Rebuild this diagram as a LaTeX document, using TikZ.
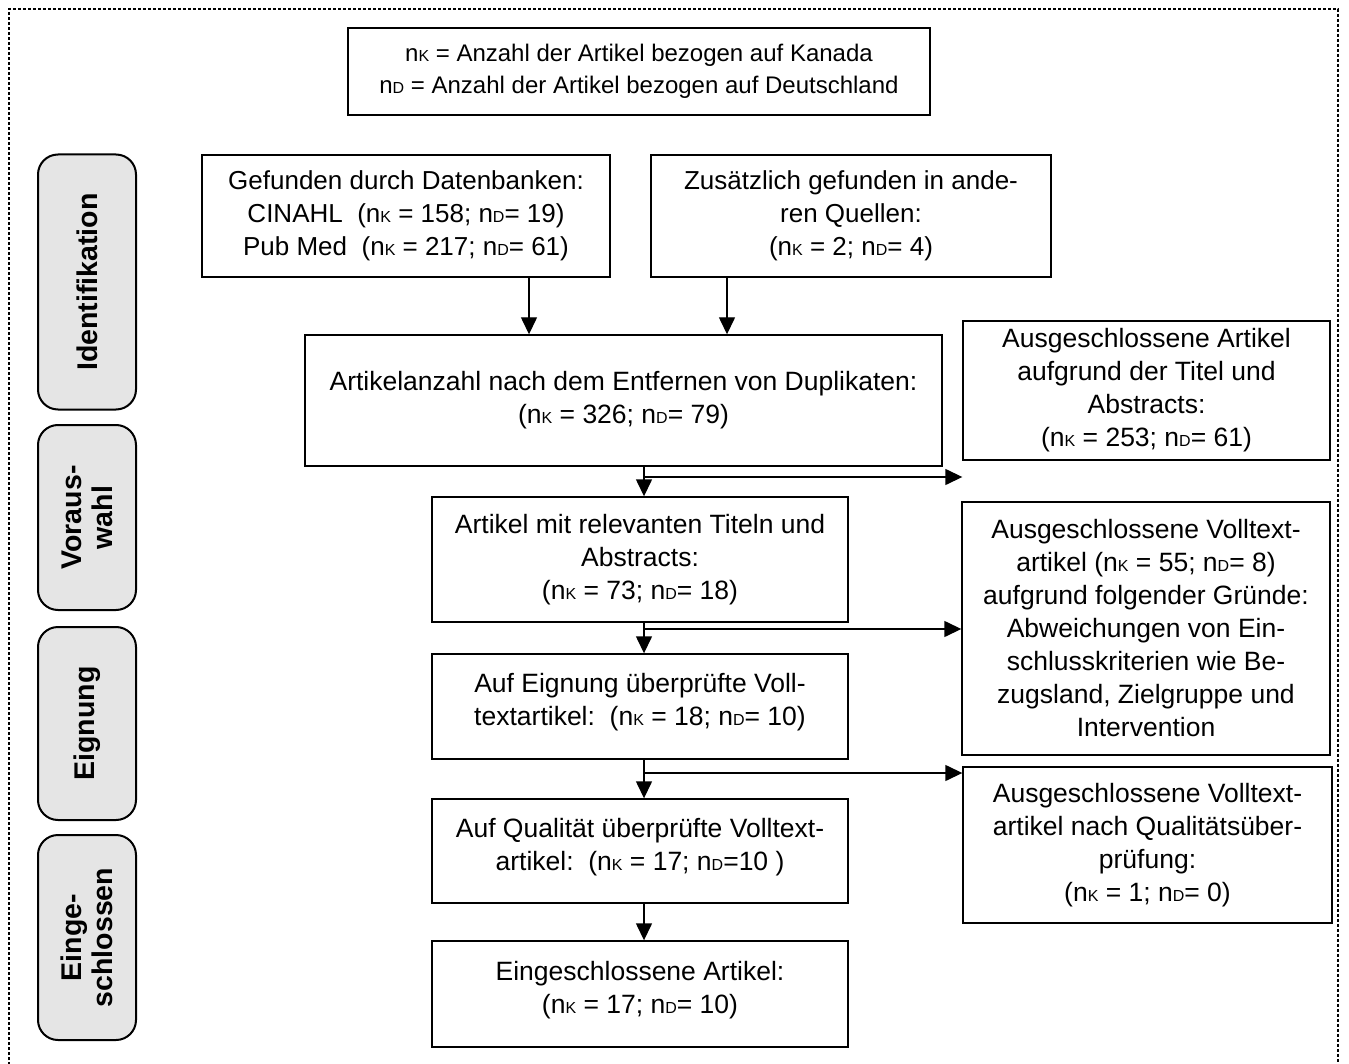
\documentclass[tikz,border=0pt]{standalone}
\usepackage{fontspec}
\setmainfont{Liberation Sans}
\usetikzlibrary{arrows.meta}
\newcommand{\nK}{n{\fontsize{16}{16}\selectfont K}}
\newcommand{\nD}{n{\fontsize{16}{16}\selectfont D}}
\newcommand{\upshiftline}{\rule[-14pt]{0pt}{14pt}}
\begin{document}
\begin{tikzpicture}[x=1pt,y=-1pt,
  box/.style={draw, line width=1.4pt, align=center, inner sep=0pt,
    font=\fontsize{26.5}{33}\selectfont},
  phase/.style={draw, line width=2pt, rounded corners=20pt, fill=black!10,
    align=center, inner sep=0pt, rotate=90,
    font=\bfseries\fontsize{28.5}{31}\selectfont},
  arr/.style={-{Triangle[width=16pt,length=17pt]}, line width=1.4pt},
  frame/.style={line width=2.6pt, dash pattern=on 2.6pt off 2.4pt}]
\useasboundingbox (0,0) rectangle (1349,1064);
\draw[frame] (9,1090) -- (9,9) -- (1338,9) -- (1338,1090);

% legend
\node[box, minimum width=582, minimum height=87, font=\fontsize{24}{32}\selectfont] (legend) at (639,71.5)
  {\nK{} = Anzahl der Artikel bezogen auf Kanada\\ \nD{} = Anzahl der Artikel bezogen auf Deutschland};

% phase labels
\node[phase, minimum width=255, minimum height=98] (p1) at (87,282) {Identifikation};
\node[phase, minimum width=185, minimum height=98] (p2) at (87,517.5) {Voraus-\\wahl};
\node[phase, minimum width=193, minimum height=98] (p3) at (87,723.5) {Eignung};
\node[phase, minimum width=205, minimum height=98] (p4) at (87,937.5) {Einge-\\schlossen};

% flow boxes
\node[box, minimum width=408, minimum height=122, font=\fontsize{26}{33}\selectfont] (A) at (406,216)
  {Gefunden durch Datenbanken:\\ CINAHL\ \ (\nK{} = 158; \nD= 19)\\ Pub Med\ \ (\nK{} = 217; \nD= 61)};
\node[box, minimum width=400, minimum height=122, font=\fontsize{26}{33}\selectfont] (B) at (851,216)
  {Zusätzlich gefunden in ande-\\ ren Quellen:\\ (\nK{} = 2; \nD= 4)};
\node[box, minimum width=637, minimum height=131] (C) at (623.5,400.5)
  {Artikelanzahl nach dem Entfernen von Duplikaten:\\ (\nK{} = 326; \nD= 79)};
\node[box, minimum width=367, minimum height=139] (D) at (1146.5,390.5)
  {Ausgeschlossene Artikel\\ aufgrund der Titel und\\ Abstracts:\\ (\nK{} = 253; \nD= 61)};
\node[box, minimum width=416, minimum height=125] (E) at (640,559.5)
  {Artikel mit relevanten Titeln und\\ Abstracts:\\ (\nK{} = 73; \nD= 18)};
\node[box, minimum width=368, minimum height=253] (F) at (1146,628.5)
  {Ausgeschlossene Volltext-\\ artikel (\nK{} = 55; \nD= 8)\\ aufgrund folgender Gründe:\\ Abweichungen von Ein-\\ schlusskriterien wie Be-\\ zugsland, Zielgruppe und\\ Intervention};
\node[box, minimum width=416, minimum height=105] (G) at (640,706.5)
  {Auf Eignung überprüfte Voll-\\ textartikel:\ \ (\nK{} = 18; \nD= 10)\upshiftline};
\node[box, minimum width=416, minimum height=104] (H) at (640,851)
  {Auf Qualität überprüfte Volltext-\\ artikel:\ \ (\nK{} = 17; \nD=10 )\upshiftline};
\node[box, minimum width=369, minimum height=156] (I) at (1147.5,845)
  {Ausgeschlossene Volltext-\\ artikel nach Qualitätsüber-\\ prüfung:\\ (\nK{} = 1; \nD= 0)};
\node[box, minimum width=416, minimum height=106] (J) at (640,994)
  {Eingeschlossene Artikel:\\ (\nK{} = 17; \nD= 10)\upshiftline};

% helper coordinates
\coordinate (xa) at (529,0);
\coordinate (xb) at (727,0);
\coordinate (sp) at (644,0);
\coordinate (b1) at (644,477);
\coordinate (b2) at (644,629);
\coordinate (b3) at (644,773);

% connectors
\draw[arr] (A.south -| xa) -- (C.north -| xa);
\draw[arr] (B.south -| xb) -- (C.north -| xb);
\draw[arr] (C.south -| sp) -- (E.north -| sp);
\draw[arr] (b1) -- (b1 -| D.west);
\draw[arr] (E.south -| sp) -- (G.north -| sp);
\draw[arr] (b2) -- (b2 -| F.west);
\draw[arr] (G.south -| sp) -- (H.north -| sp);
\draw[arr] (b3) -- (b3 -| I.west);
\draw[arr] (H.south -| sp) -- (J.north -| sp);
\end{tikzpicture}
\end{document}
